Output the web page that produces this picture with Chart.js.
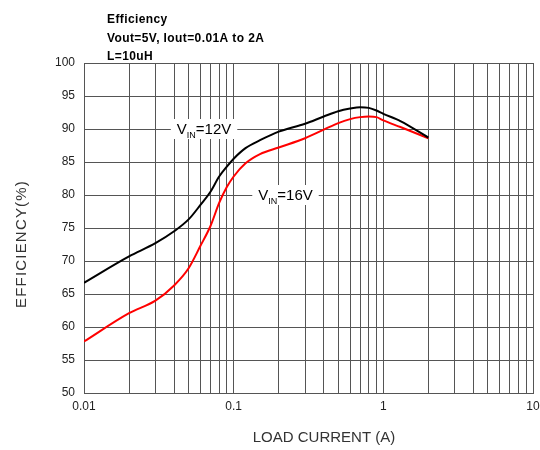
<!DOCTYPE html>
<html>
<head>
<meta charset="utf-8">
<script src="https://cdn.jsdelivr.net/npm/chart.js@4.4.1/dist/chart.umd.min.js"></script>
<style>
  html, body { margin: 0; padding: 0; background: #fff; }
</style>
</head>
<body>
<canvas id="efficiencyChart" width="540" height="450"></canvas>
<script>
// values
const loadCurrent = [0.01, 0.02, 0.03, 0.04, 0.05, 0.06, 0.07, 0.08, 0.09, 0.1, 0.12, 0.15, 0.2, 0.3, 0.4, 0.5, 0.6, 0.7, 0.8, 0.9, 1, 1.3, 2];
const effVin12 = [66.7, 70.7, 72.7, 74.5, 76.3, 78.5, 80.5, 82.8, 84.3, 85.5, 87.1, 88.3, 89.6, 90.8, 91.9, 92.7, 93.1, 93.3, 93.2, 92.8, 92.3, 91.2, 88.7];
const effVin16 = [57.8, 62.1, 64.0, 66.3, 68.9, 72.3, 75.3, 78.8, 81.2, 82.8, 84.8, 86.2, 87.2, 88.6, 89.9, 90.9, 91.5, 91.8, 91.9, 91.8, 91.3, 90.3, 88.6];

const xGridValues = [0.01, 0.02, 0.03, 0.04, 0.05, 0.06, 0.07, 0.08, 0.09,
  0.1, 0.2, 0.3, 0.4, 0.5, 0.6, 0.7, 0.8, 0.9,
  1, 2, 3, 4, 5, 6, 7, 8, 9, 10];
const xTickLabels = ['0.01', '0.1', '1', '10'];

const titleLines = ['Efficiency', 'Vout=5V, Iout=0.01A to 2A', 'L=10uH'];
const curveLabels = [
  { volts: '12V', x: 0.0634, y: 90 },
  { volts: '16V', x: 0.222, y: 80 }
];

const FONT = '"Liberation Sans", Arial, sans-serif';

const textPlugin = {
  id: 'textPlugin',
  afterDatasetsDraw(chart) {
    const ctx = chart.ctx;
    const xs = chart.scales.x;
    const ys = chart.scales.y;
    ctx.save();

    // curve labels with white box behind
    curveLabels.forEach(l => {
      const cx = xs.getPixelForValue(l.x);
      const cy = ys.getPixelForValue(l.y);
      ctx.font = '15px ' + FONT;
      const wV = ctx.measureText('V').width;
      const wRest = ctx.measureText('=' + l.volts).width;
      ctx.font = '9px ' + FONT;
      const wSub = ctx.measureText('IN').width;
      const w = wV + wSub + wRest;
      const x0 = cx - w / 2;
      ctx.fillStyle = '#fff';
      ctx.fillRect(x0 - 6, cy - 10, w + 12, 20);
      ctx.fillStyle = '#000';
      ctx.textBaseline = 'alphabetic';
      ctx.textAlign = 'left';
      ctx.font = '15px ' + FONT;
      ctx.fillText('V', x0, cy + 5);
      ctx.font = '9px ' + FONT;
      ctx.fillText('IN', x0 + wV, cy + 9);
      ctx.font = '15px ' + FONT;
      ctx.fillText('=' + l.volts, x0 + wV + wSub, cy + 5);
    });

    // heading
    ctx.fillStyle = '#000';
    ctx.font = 'bold 12px ' + FONT;
    ctx.textAlign = 'left';
    ctx.letterSpacing = '0.4px';
    titleLines.forEach((t, i) => {
      ctx.fillText(t, 107, 23 + i * 18.5);
    });
    ctx.letterSpacing = '0px';

    // axis titles
    ctx.fillStyle = '#333';
    ctx.font = '15px ' + FONT;
    ctx.textAlign = 'center';
    ctx.textBaseline = 'middle';
    ctx.fillText('LOAD CURRENT (A)', 324, 438);

    ctx.translate(22, 244);
    ctx.rotate(-Math.PI / 2);
    ctx.letterSpacing = '1.2px';
    ctx.fillText('EFFICIENCY(%)', 0, 0);
    ctx.restore();
  }
};

new Chart(document.getElementById('efficiencyChart'), {
  type: 'line',
  data: {
    datasets: [
      {
        label: 'VIN=12V',
        data: loadCurrent.map((x, i) => ({ x: x, y: effVin12[i] })),
        borderColor: '#000',
        borderWidth: 2,
        pointRadius: 0,
        cubicInterpolationMode: 'monotone',
        fill: false
      },
      {
        label: 'VIN=16V',
        data: loadCurrent.map((x, i) => ({ x: x, y: effVin16[i] })),
        borderColor: '#ff0000',
        borderWidth: 2,
        pointRadius: 0,
        cubicInterpolationMode: 'monotone',
        fill: false
      }
    ]
  },
  options: {
    responsive: false,
    animation: false,
    devicePixelRatio: 1,
    layout: { padding: { top: 63, right: 0, left: 0, bottom: 0 } },
    plugins: {
      legend: { display: false },
      tooltip: { enabled: false },
      title: { display: false }
    },
    scales: {
      x: {
        type: 'logarithmic',
        min: 0.01,
        max: 10,
        afterBuildTicks: scale => {
          scale.ticks = xGridValues.map(v => ({ value: v }));
        },
        afterFit: scale => {
          scale.height = 57;
          scale.paddingRight = 7;
          scale.paddingLeft = 0;
        },
        ticks: {
          autoSkip: false,
          maxRotation: 0,
          padding: 6,
          color: '#222',
          font: { family: FONT, size: 12 },
          callback: v => {
            const s = String(v);
            return xTickLabels.includes(s) ? s : '';
          }
        },
        grid: { color: '#555', lineWidth: 1, drawTicks: false },
        border: { color: '#555' }
      },
      y: {
        min: 50,
        max: 100,
        afterFit: scale => { scale.width = 84; },
        ticks: {
          stepSize: 5,
          padding: 9,
          color: '#222',
          font: { family: FONT, size: 12 }
        },
        grid: { color: '#555', lineWidth: 1, drawTicks: false },
        border: { color: '#555' }
      }
    }
  },
  plugins: [textPlugin]
});
</script>
</body>
</html>
